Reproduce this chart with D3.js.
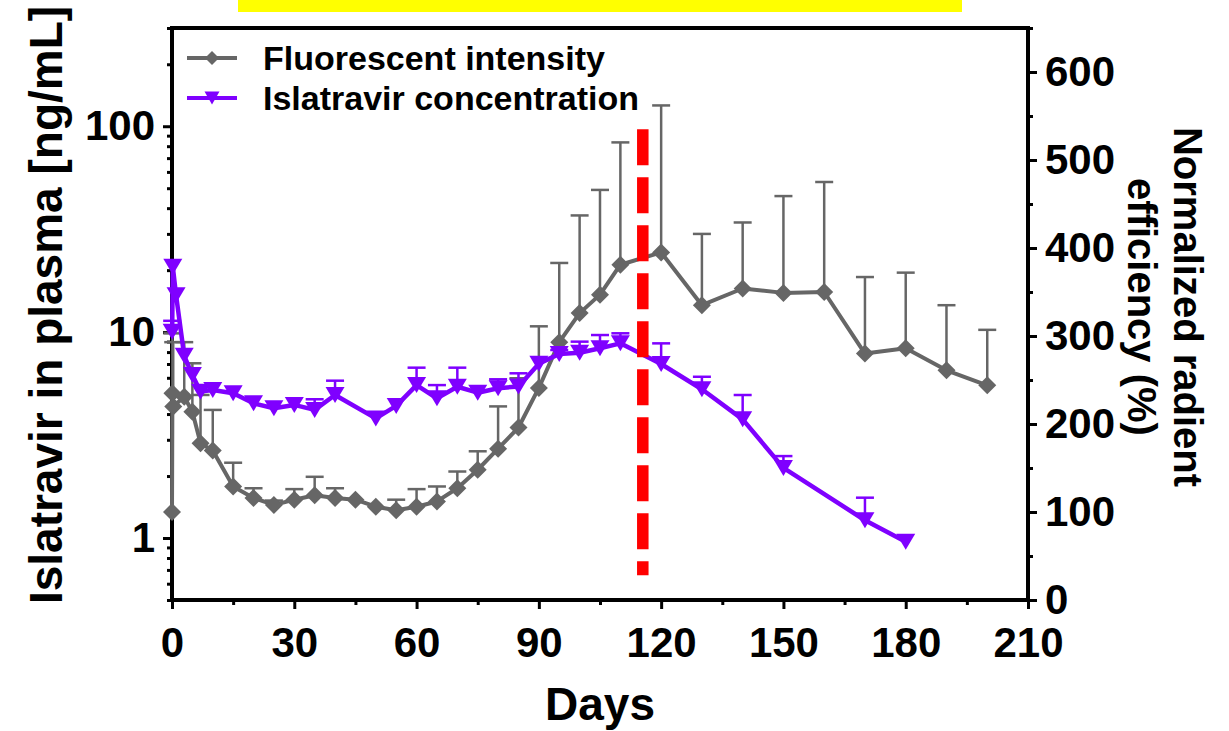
<!DOCTYPE html>
<html>
<head>
<meta charset="utf-8">
<script src="https://cdn.jsdelivr.net/npm/d3@7"></script>
<style>
  body { margin: 0; background: #fff; }
  text { font-family: "Liberation Sans", Arial, sans-serif; font-weight: bold; fill: #000; }
</style>
</head>
<body>
<svg id="chart" width="1229" height="731"></svg>
<script>
// Fluorescent intensity (right axis, %), upper error bars
const fluoDays = [0, 0.1, 0.3, 3, 5, 7, 10, 15, 20, 25, 30, 35, 40, 45, 50, 55, 60, 65, 70, 75, 80, 85, 90, 95, 100, 105, 110, 120, 130, 140, 150, 160, 170, 180, 190, 200];
const fluoValues = [100, 235, 220, 231, 214, 178, 170, 129, 116, 108, 114, 119, 116, 114, 106, 102, 106, 112, 127, 148, 172, 196, 241, 293, 326, 347, 381, 395, 335, 354, 349, 350, 280, 286, 261, 244];
const fluoErr = [0, 68, 73, 62, 55, 55, 46, 27, 11, 5, 12, 21, 11, 0, 0, 12, 20, 17, 19, 21, 48, 56, 70, 90, 111, 119, 139, 167, 81, 75, 110, 125, 87, 86, 74, 63];

// Islatravir concentration (left log axis, ng/mL), upper error bars
const islaDays = [0.04, 0.2, 1, 3, 5, 7, 10, 15, 20, 25, 30, 35, 40, 50, 55, 60, 65, 70, 75, 80, 85, 90, 95, 100, 105, 110, 120, 130, 140, 150, 170, 180];
const islaValues = [10.05, 20.8, 15.1, 7.67, 6.19, 5.14, 5.24, 5.05, 4.51, 4.27, 4.43, 4.19, 4.95, 3.81, 4.38, 5.53, 4.77, 5.43, 5.08, 5.34, 5.45, 7.03, 7.83, 7.94, 8.35, 8.82, 7.0, 5.28, 3.77, 2.19, 1.22, 0.96];
const islaErr = [1.3, 0, 0, 0, 0, 0, 0, 0, 0, 0, 0, 0.53, 0.86, 0, 0, 1.19, 0.76, 1.29, 0, 0.56, 0.86, 0, 0.36, 1.05, 1.33, 1.05, 1.82, 0.79, 1.18, 0.31, 0.35, 0];

// axis ticks
const xTicks = [0, 30, 60, 90, 120, 150, 180, 210];
const xMinor = [15, 45, 75, 105, 135, 165, 195];
const leftTicks = [1, 10, 100];
const rightTicks = [0, 100, 200, 300, 400, 500, 600];
const rightMinor = [50, 150, 250, 350, 450, 550, 650];

// red dashed marker (day, from..to on right axis)
const markerDay = 115.5;
const markerRange = [28, 535];

const legendLabels = ["Fluorescent intensity", "Islatravir concentration"];

const grey = "#666666";
const purple = "#7f00ff";

const svg = d3.select("#chart");
const margin = { top: 28, left: 172, right: 1028, bottom: 600 };

const x = d3.scaleLinear().domain([0, 210]).range([margin.left, margin.right]);
const yL = d3.scaleLog().domain([0.5, 300]).range([margin.bottom, margin.top]);
const yR = d3.scaleLinear().domain([0, 650]).range([margin.bottom, margin.top]);

// yellow strip at the top
svg.append("rect").attr("x", 238).attr("y", 0).attr("width", 724).attr("height", 12).attr("fill", "#ffff00");

// axes
function styleAxis(g) {
  g.select(".domain").remove();
  g.selectAll(".tick line").attr("stroke", "#000").attr("stroke-width", 3);
  g.selectAll(".tick text").attr("font-size", 42);
}

svg.append("g").attr("transform", `translate(0,${margin.bottom})`)
  .call(d3.axisBottom(x).tickValues(xTicks).tickSize(9).tickPadding(18).tickFormat(d3.format("d")))
  .call(styleAxis);
svg.append("g").attr("transform", `translate(0,${margin.bottom})`)
  .call(d3.axisBottom(x).tickValues(xMinor).tickSize(5).tickFormat(""))
  .call(styleAxis);

const leftMinor = yL.ticks().filter(d => !leftTicks.includes(d));
svg.append("g").attr("transform", `translate(${margin.left},0)`)
  .call(d3.axisLeft(yL).tickValues(leftTicks).tickSize(9).tickPadding(8).tickFormat(d3.format("d")))
  .call(styleAxis);
svg.append("g").attr("transform", `translate(${margin.left},0)`)
  .call(d3.axisLeft(yL).tickValues(leftMinor).tickSize(5).tickFormat(""))
  .call(styleAxis);

svg.append("g").attr("transform", `translate(${margin.right},0)`)
  .call(d3.axisRight(yR).tickValues(rightTicks).tickSize(9).tickPadding(8).tickFormat(d3.format("d")))
  .call(styleAxis);
svg.append("g").attr("transform", `translate(${margin.right},0)`)
  .call(d3.axisRight(yR).tickValues(rightMinor).tickSize(5).tickFormat(""))
  .call(styleAxis);

// frame
svg.append("rect")
  .attr("x", margin.left).attr("y", margin.top)
  .attr("width", margin.right - margin.left).attr("height", margin.bottom - margin.top)
  .attr("fill", "none").attr("stroke", "#000").attr("stroke-width", 4);

// axis titles
svg.append("text").attr("x", (margin.left + margin.right) / 2).attr("y", 720)
  .attr("text-anchor", "middle").attr("font-size", 46).text("Days");
svg.append("text").attr("transform", "translate(62,305) rotate(-90)")
  .attr("text-anchor", "middle").attr("font-size", 46).text("Islatravir in plasma [ng/mL]");
const rt = svg.append("text").attr("transform", "translate(1174,307) rotate(90)")
  .attr("text-anchor", "middle").attr("font-size", 40);
rt.append("tspan").attr("x", 0).attr("dy", 0).text("Normalized radient");
rt.append("tspan").attr("x", 0).attr("dy", 46).text("efficiency (%)");

const diamond = s => `M0,${-s}L${s},0L0,${s}L${-s},0Z`;
const triDown = (w, h) => `M${-w},${-h}L${w},${-h}L0,${h}Z`;

function drawSeries(days, values, errs, yScale, color, lw, shape) {
  const pts = days.map((d, i) => ({ d, v: values[i], e: errs[i] }));
  const err = svg.append("g").attr("stroke", color).attr("stroke-width", 2.5);
  pts.filter(p => p.e > 0).forEach(p => {
    const px = x(p.d), y0 = yScale(p.v), y1 = yScale(p.v + p.e);
    err.append("line").attr("x1", px).attr("x2", px).attr("y1", y0).attr("y2", y1);
    err.append("line").attr("x1", px - 9).attr("x2", px + 9).attr("y1", y1).attr("y2", y1);
  });
  svg.append("path").datum(pts)
    .attr("fill", "none").attr("stroke", color).attr("stroke-width", lw).attr("stroke-linejoin", "round")
    .attr("d", d3.line().x(p => x(p.d)).y(p => yScale(p.v)));
  svg.append("g").selectAll("path").data(pts).join("path")
    .attr("transform", p => `translate(${x(p.d)},${yScale(p.v)})`)
    .attr("d", shape).attr("fill", color);
}

drawSeries(fluoDays, fluoValues, fluoErr, yR, grey, 4, diamond(9));
drawSeries(islaDays, islaValues, islaErr, yL, purple, 4.5, triDown(9.5, 8));

// red dashed line
svg.append("line")
  .attr("x1", x(markerDay)).attr("x2", x(markerDay))
  .attr("y1", yR(markerRange[1])).attr("y2", yR(markerRange[0]))
  .attr("stroke", "#ff0000").attr("stroke-width", 11.5).attr("stroke-dasharray", "36,12");

// legend
const leg = svg.append("g");
legendLabels.forEach((lab, i) => {
  const ly = 58 + i * 40;
  const c = i === 0 ? grey : purple;
  leg.append("line").attr("x1", 187).attr("x2", 237).attr("y1", ly).attr("y2", ly)
    .attr("stroke", c).attr("stroke-width", 4);
  leg.append("path").attr("transform", `translate(212,${ly})`)
    .attr("d", i === 0 ? diamond(7) : triDown(7.5, 6.5)).attr("fill", c);
  leg.append("text").attr("x", 263).attr("y", ly + 12).attr("font-size", 34).text(lab);
});
</script>
</body>
</html>
